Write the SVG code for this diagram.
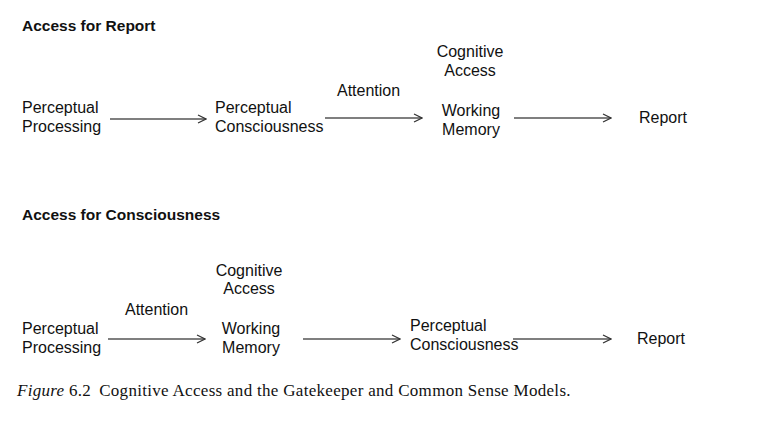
<svg xmlns="http://www.w3.org/2000/svg" width="781" height="429" viewBox="0 0 781 429">
<defs>
<marker id="arr" viewBox="0 0 10 10" refX="9" refY="5" markerWidth="10" markerHeight="10" markerUnits="userSpaceOnUse" orient="auto">
<path d="M1,1 L9,5 L1,9" fill="none" stroke="#333" stroke-width="1.2"/>
</marker>
<style>
text{font-family:"Liberation Sans",Arial,sans-serif;font-size:16px;fill:#111}
.h{font-weight:bold;font-size:15.5px}
.c{text-anchor:middle}
.cap{font-family:"Liberation Serif","Times New Roman",serif;font-size:17px;letter-spacing:0.3px}
line{stroke:#555;stroke-width:1.3;marker-end:url(#arr)}
</style>
</defs>
<rect width="781" height="429" fill="#fff"/>
<text class="h" x="22" y="31">Access for Report</text>
<g id="r1-pp"><text x="22" y="113">Perceptual</text><text x="22" y="132">Processing</text></g>
<g id="r1-pc"><text x="215" y="113">Perceptual</text><text x="215" y="132">Consciousness</text></g>
<g id="r1-ca"><text class="c" x="470" y="57">Cognitive</text><text class="c" x="470" y="76">Access</text></g>
<g id="r1-att"><text x="337" y="96">Attention</text></g>
<g id="r1-wm"><text class="c" x="471" y="116">Working</text><text class="c" x="471" y="135">Memory</text></g>
<g id="r1-rep"><text x="639" y="123">Report</text></g>
<text class="h" x="22" y="220">Access for Consciousness</text>
<g id="r2-pp"><text x="22" y="334">Perceptual</text><text x="22" y="353">Processing</text></g>
<g id="r2-att"><text x="125" y="315">Attention</text></g>
<g id="r2-ca"><text class="c" x="249" y="276">Cognitive</text><text class="c" x="249" y="294">Access</text></g>
<g id="r2-wm"><text class="c" x="251" y="334">Working</text><text class="c" x="251" y="353">Memory</text></g>
<g id="r2-pc"><text x="410" y="331">Perceptual</text><text x="410" y="350">Consciousness</text></g>
<g id="r2-rep"><text x="637" y="344">Report</text></g>
<g id="connectors">
<line x1="110" y1="119" x2="206" y2="119"/>
<line x1="325" y1="118" x2="422" y2="118"/>
<line x1="514" y1="118" x2="611" y2="118"/>
<line x1="108" y1="339" x2="205" y2="339"/>
<line x1="303" y1="339" x2="400" y2="339"/>
<line x1="513" y1="339" x2="611" y2="339"/>
</g>
<text class="cap" x="17" y="396"><tspan font-style="italic">Figure</tspan> 6.2<tspan dx="8">Cognitive Access and the Gatekeeper and Common Sense Models.</tspan></text>
</svg>
